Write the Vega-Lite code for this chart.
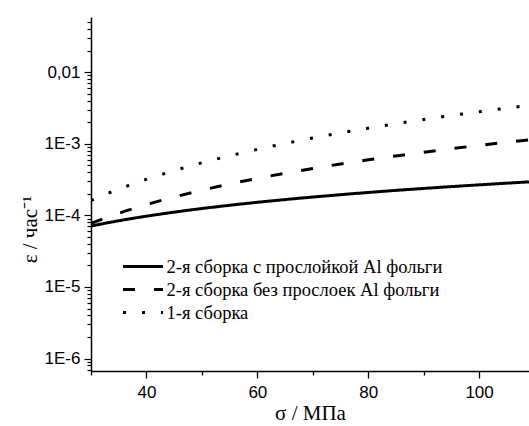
{
  "$schema": "https://vega.github.io/schema/vega-lite/v6.json",
  "width": 438,
  "height": 354,
  "autosize": "none",
  "padding": {"left": 91, "top": 17, "right": 0, "bottom": 55},
  "background": "white",
  "config": {"view": {"stroke": null}},
  "data": {"values": [
    {"s": 30, "v": 7.10e-5, "series": "2-я сборка с прослойкой Al фольги"},
    {"s": 35, "v": 8.41e-5, "series": "2-я сборка с прослойкой Al фольги"},
    {"s": 40, "v": 9.74e-5, "series": "2-я сборка с прослойкой Al фольги"},
    {"s": 45, "v": 1.109e-4, "series": "2-я сборка с прослойкой Al фольги"},
    {"s": 50, "v": 1.245e-4, "series": "2-я сборка с прослойкой Al фольги"},
    {"s": 55, "v": 1.383e-4, "series": "2-я сборка с прослойкой Al фольги"},
    {"s": 60, "v": 1.522e-4, "series": "2-я сборка с прослойкой Al фольги"},
    {"s": 65, "v": 1.662e-4, "series": "2-я сборка с прослойкой Al фольги"},
    {"s": 70, "v": 1.803e-4, "series": "2-я сборка с прослойкой Al фольги"},
    {"s": 75, "v": 1.945e-4, "series": "2-я сборка с прослойкой Al фольги"},
    {"s": 80, "v": 2.088e-4, "series": "2-я сборка с прослойкой Al фольги"},
    {"s": 85, "v": 2.233e-4, "series": "2-я сборка с прослойкой Al фольги"},
    {"s": 90, "v": 2.377e-4, "series": "2-я сборка с прослойкой Al фольги"},
    {"s": 95, "v": 2.523e-4, "series": "2-я сборка с прослойкой Al фольги"},
    {"s": 100, "v": 2.669e-4, "series": "2-я сборка с прослойкой Al фольги"},
    {"s": 105, "v": 2.817e-4, "series": "2-я сборка с прослойкой Al фольги"},
    {"s": 109, "v": 2.935e-4, "series": "2-я сборка с прослойкой Al фольги"},
    {"s": 30, "v": 7.76e-5, "series": "2-я сборка без прослоек Al фольги"},
    {"s": 35, "v": 1.069e-4, "series": "2-я сборка без прослоек Al фольги"},
    {"s": 40, "v": 1.412e-4, "series": "2-я сборка без прослоек Al фольги"},
    {"s": 45, "v": 1.804e-4, "series": "2-я сборка без прослоек Al фольги"},
    {"s": 50, "v": 2.246e-4, "series": "2-я сборка без прослоек Al фольги"},
    {"s": 55, "v": 2.738e-4, "series": "2-я сборка без прослоек Al фольги"},
    {"s": 60, "v": 3.281e-4, "series": "2-я сборка без прослоек Al фольги"},
    {"s": 65, "v": 3.875e-4, "series": "2-я сборка без прослоек Al фольги"},
    {"s": 70, "v": 4.521e-4, "series": "2-я сборка без прослоек Al фольги"},
    {"s": 75, "v": 5.219e-4, "series": "2-я сборка без прослоек Al фольги"},
    {"s": 80, "v": 5.968e-4, "series": "2-я сборка без прослоек Al фольги"},
    {"s": 85, "v": 6.771e-4, "series": "2-я сборка без прослоек Al фольги"},
    {"s": 90, "v": 7.625e-4, "series": "2-я сборка без прослоек Al фольги"},
    {"s": 95, "v": 8.533e-4, "series": "2-я сборка без прослоек Al фольги"},
    {"s": 100, "v": 9.494e-4, "series": "2-я сборка без прослоек Al фольги"},
    {"s": 105, "v": 1.0508e-3, "series": "2-я сборка без прослоек Al фольги"},
    {"s": 109, "v": 1.1359e-3, "series": "2-я сборка без прослоек Al фольги"},
    {"s": 30, "v": 1.614e-4, "series": "1-я сборка"},
    {"s": 35, "v": 2.326e-4, "series": "1-я сборка"},
    {"s": 40, "v": 3.192e-4, "series": "1-я сборка"},
    {"s": 45, "v": 4.219e-4, "series": "1-я сборка"},
    {"s": 50, "v": 5.416e-4, "series": "1-я сборка"},
    {"s": 55, "v": 6.789e-4, "series": "1-я сборка"},
    {"s": 60, "v": 8.344e-4, "series": "1-я сборка"},
    {"s": 65, "v": 1.0086e-3, "series": "1-я сборка"},
    {"s": 70, "v": 1.2023e-3, "series": "1-я сборка"},
    {"s": 75, "v": 1.4159e-3, "series": "1-я сборка"},
    {"s": 80, "v": 1.6499e-3, "series": "1-я сборка"},
    {"s": 85, "v": 1.9048e-3, "series": "1-я сборка"},
    {"s": 90, "v": 2.1814e-3, "series": "1-я сборка"},
    {"s": 95, "v": 2.4797e-3, "series": "1-я сборка"},
    {"s": 100, "v": 2.8001e-3, "series": "1-я сборка"},
    {"s": 105, "v": 3.1433e-3, "series": "1-я сборка"},
    {"s": 109, "v": 3.4350e-3, "series": "1-я сборка"}
  ]},
  "mark": {"type": "line", "strokeWidth": 3, "color": "black", "clip": true, "interpolate": "monotone"},
  "encoding": {
    "x": {
      "field": "s", "type": "quantitative",
      "scale": {"domain": [30, 109], "nice": false, "zero": false},
      "axis": {
        "title": "σ / МПа",
        "values": [30, 40, 50, 60, 70, 80, 90, 100],
        "labelExpr": "datum.value % 20 == 0 ? datum.label : ''",
        "labelFont": "Liberation Sans", "labelFontSize": 17, "labelColor": "black", "labelPadding": 6,
        "tickSize": {"condition": {"test": "datum.value % 20 == 0", "value": 7}, "value": 4},
        "tickColor": "black", "tickWidth": 1.3,
        "domainColor": "black", "domainWidth": 1.5,
        "grid": false,
        "titleFont": "Liberation Serif", "titleFontSize": 21, "titleFontWeight": "normal", "titleColor": "black",
        "titleY": 48, "titleBaseline": "alphabetic"
      }
    },
    "y": {
      "field": "v", "type": "quantitative",
      "scale": {"type": "log", "domain": [6.7e-7, 0.059], "nice": false},
      "axis": {
        "title": "ε / час⁻¹",
        "values": [7e-7, 8e-7, 9e-7, 1e-6, 2e-6, 3e-6, 4e-6, 5e-6, 6e-6, 7e-6, 8e-6, 9e-6, 1e-5, 2e-5, 3e-5, 4e-5, 5e-5, 6e-5, 7e-5, 8e-5, 9e-5, 1e-4, 2e-4, 3e-4, 4e-4, 5e-4, 6e-4, 7e-4, 8e-4, 9e-4, 1e-3, 2e-3, 3e-3, 4e-3, 5e-3, 6e-3, 7e-3, 8e-3, 9e-3, 0.01, 0.02, 0.03, 0.04, 0.05],
        "labelExpr": "abs(log(datum.value)/LN10 - round(log(datum.value)/LN10)) < 1e-6 ? (round(log(datum.value)/LN10) == -2 ? '0,01' : '1E' + round(log(datum.value)/LN10)) : ''",
        "labelFont": "Liberation Sans", "labelFontSize": 17, "labelColor": "black", "labelPadding": 4,
        "tickSize": {"condition": {"test": "abs(log(datum.value)/LN10 - round(log(datum.value)/LN10)) < 1e-6", "value": 7}, "value": 4},
        "tickColor": "black", "tickWidth": 1.2,
        "domainColor": "black", "domainWidth": 1.5,
        "grid": false,
        "titleFont": "Liberation Serif", "titleFontSize": 21, "titleFontWeight": "normal", "titleColor": "black",
        "titleX": -55, "titleY": 212, "titleAlign": "center", "titleBaseline": "alphabetic"
      }
    },
    "strokeDash": {
      "field": "series", "type": "nominal",
      "scale": {
        "domain": ["2-я сборка с прослойкой Al фольги", "2-я сборка без прослоек Al фольги", "1-я сборка"],
        "range": [[1, 0], [12, 19], [3, 16]]
      },
      "legend": {
        "title": null,
        "orient": "none", "legendX": 40.5, "legendY": 238,
        "symbolType": "M-2,0H2", "symbolSize": 400, "symbolStrokeWidth": 3, "symbolStrokeColor": "black",
        "labelFont": "Liberation Serif", "labelFontSize": 18.5, "labelColor": "black", "labelOffset": 12,
        "labelLimit": 400, "rowPadding": 2, "padding": 0
      }
    }
  }
}
